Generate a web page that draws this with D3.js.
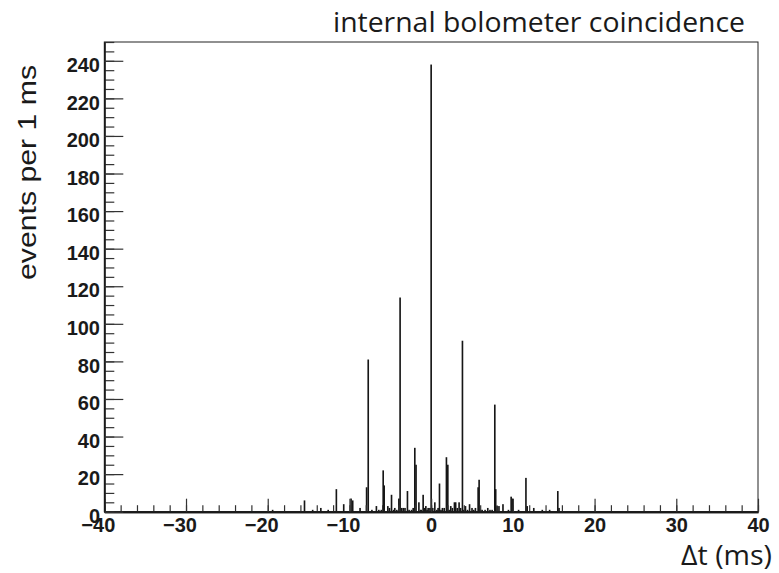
<!DOCTYPE html>
<html><head><meta charset="utf-8">
<script src="https://cdn.jsdelivr.net/npm/d3@7"></script>
<style>body{margin:0;background:#fff}svg{display:block}</style>
</head><body>
<svg id="c" width="779" height="573"></svg>
<script>
// ---- data (bin centres in ms, counts) ----
const binCenters = [-19.4,-15.5,-14.5,-13.5,-12.6,-11.6,-10.7,-9.8,-9.6,-8.7,-7.9,-7.7,-7.25,-6.7,-6.4,-6.1,
  -5.87,-5.75,-5.3,-5.1,-4.85,-4.6,-4.45,-4.2,-3.95,-3.8,-3.6,-3.4,-3.2,-2.9,-2.7,-2.4,-2.2,-2.0,-1.85,-1.5,-1.3,-1.2,
  -0.98,-0.8,-0.65,-0.5,-0.37,-0.15,0.0,0.2,0.45,0.7,0.85,1.02,1.2,1.38,1.6,1.87,2.04,2.2,2.4,2.6,2.85,3.0,3.2,3.42,3.6,3.83,4.0,4.2,4.45,4.7,
  5.0,5.2,5.42,5.75,5.87,6.05,6.24,6.6,6.93,7.2,7.46,7.79,7.9,8.07,8.3,8.79,9.46,9.79,9.95,10.7,11.6,11.75,12.56,13.6,14.5,15.5,15.65];
const counts = [1,6,1,2,1,12,4,7,6,2,13,81,1,3,1,1,
  22,14,3,2,9,1,2,1,7,114,2,2,2,11,1,1,2,34,25,5,1,1,
  9,2,3,1,2,2,238,2,5,1,2,15,1,2,2,29,25,1,3,2,5,5,2,5,2,91,1,3,1,4,
  2,1,2,13,17,1,1,1,2,1,1,57,12,3,3,4,1,8,7,1,18,3,2,1,1,11,2];
const binWidth = 0.2;
const xMajor = [-40,-30,-20,-10,0,10,20,30,40];
const xMinor = d3.range(-40, 40.01, 2);
const yMajor = [0,20,40,60,80,100,120,140,160,180,200,220,240];
const yMinor = d3.range(0, 250.01, 5);
const titleText = "internal bolometer coincidence";
const xTitle = "\u0394t (ms)";
const yTitle = "events per 1 ms";

// ---- layout ----
const L = 104.3, R = 758, T = 42, B = 511.7;
const svg = d3.select("#c");
const x = d3.scaleLinear().domain([-40, 40]).range([L, R]);
const y = d3.scaleLinear().domain([0, 250]).range([B, T]);

// bars
const data = binCenters.map((c, i) => ({c, n: counts[i]}));
svg.append("g").selectAll("rect").data(data).join("rect")
  .attr("x", d => x(d.c - binWidth / 2))
  .attr("width", x(binWidth) - x(0))
  .attr("y", d => y(d.n))
  .attr("height", d => y(0) - y(d.n))
  .attr("fill", "#161616");

// frame
svg.append("rect").attr("x", L).attr("y", T).attr("width", R - L).attr("height", B - T)
  .attr("fill", "none").attr("stroke", "#222").attr("stroke-width", 1);

const font = "'Liberation Sans', Arial, Helvetica, sans-serif";
const minus = s => s.replace("-", "\u2212");

// x axis
const gx = svg.append("g").attr("transform", `translate(0,${B})`);
gx.call(d3.axisBottom(x).tickValues(xMinor).tickSize(-6.5).tickSizeOuter(0).tickFormat(""));
const gxM = svg.append("g").attr("transform", `translate(0,${B})`);
gxM.call(d3.axisBottom(x).tickValues(xMajor).tickSize(-13).tickSizeOuter(0).tickPadding(20)
  .tickFormat(d => minus(String(d))));
[gx, gxM].forEach(g => { g.select(".domain").attr("stroke", "#1a1a1a").attr("stroke-width", 2);
  g.selectAll(".tick line").attr("stroke", "#333").attr("stroke-width", 1.2); });
gxM.selectAll(".tick text").attr("font-family", font).attr("font-weight", "bold")
  .attr("font-size", 20).attr("fill", "#1a1a1a").attr("dy", "0")
  .attr("y", 20.5).attr("dx", d => d < 0 ? -6.5 : 0);

// y axis
const gy = svg.append("g").attr("transform", `translate(${L},0)`);
gy.call(d3.axisLeft(y).tickValues(yMinor).tickSize(-10).tickSizeOuter(0).tickFormat(""));
const gyM = svg.append("g").attr("transform", `translate(${L},0)`);
gyM.call(d3.axisLeft(y).tickValues(yMajor).tickSize(-19).tickSizeOuter(0).tickPadding(4).tickFormat(d3.format("d")));
[gy, gyM].forEach(g => { g.select(".domain").attr("stroke", "#1a1a1a").attr("stroke-width", 1.6);
  g.selectAll(".tick line").attr("stroke", "#333").attr("stroke-width", 1.2); });
gyM.selectAll(".tick text").attr("font-family", font).attr("font-weight", "bold")
  .attr("font-size", 20).attr("fill", "#1a1a1a").attr("dy", "0").attr("y", 10.7)
  .attr("x", -4.3).attr("text-anchor", "end");

// titles
svg.append("text").attr("x", 745).attr("y", 32).attr("text-anchor", "end")
  .attr("font-family", "'Open Sans', sans-serif").attr("font-size", 27).attr("fill", "#1a1a1a")
  .attr("textLength", 412).attr("lengthAdjust", "spacingAndGlyphs").text(titleText);
svg.append("text").attr("x", 772).attr("y", 565).attr("text-anchor", "end")
  .attr("font-family", "'Open Sans', sans-serif").attr("font-size", 28).attr("fill", "#1a1a1a")
  .attr("textLength", 91).attr("lengthAdjust", "spacingAndGlyphs").text(xTitle);
svg.append("text").attr("transform", "translate(36,65) rotate(-90)").attr("text-anchor", "end")
  .attr("font-family", font).attr("font-size", 26.5).attr("fill", "#1a1a1a")
  .attr("textLength", 215).attr("lengthAdjust", "spacingAndGlyphs").text(yTitle);
</script>
</body></html>
